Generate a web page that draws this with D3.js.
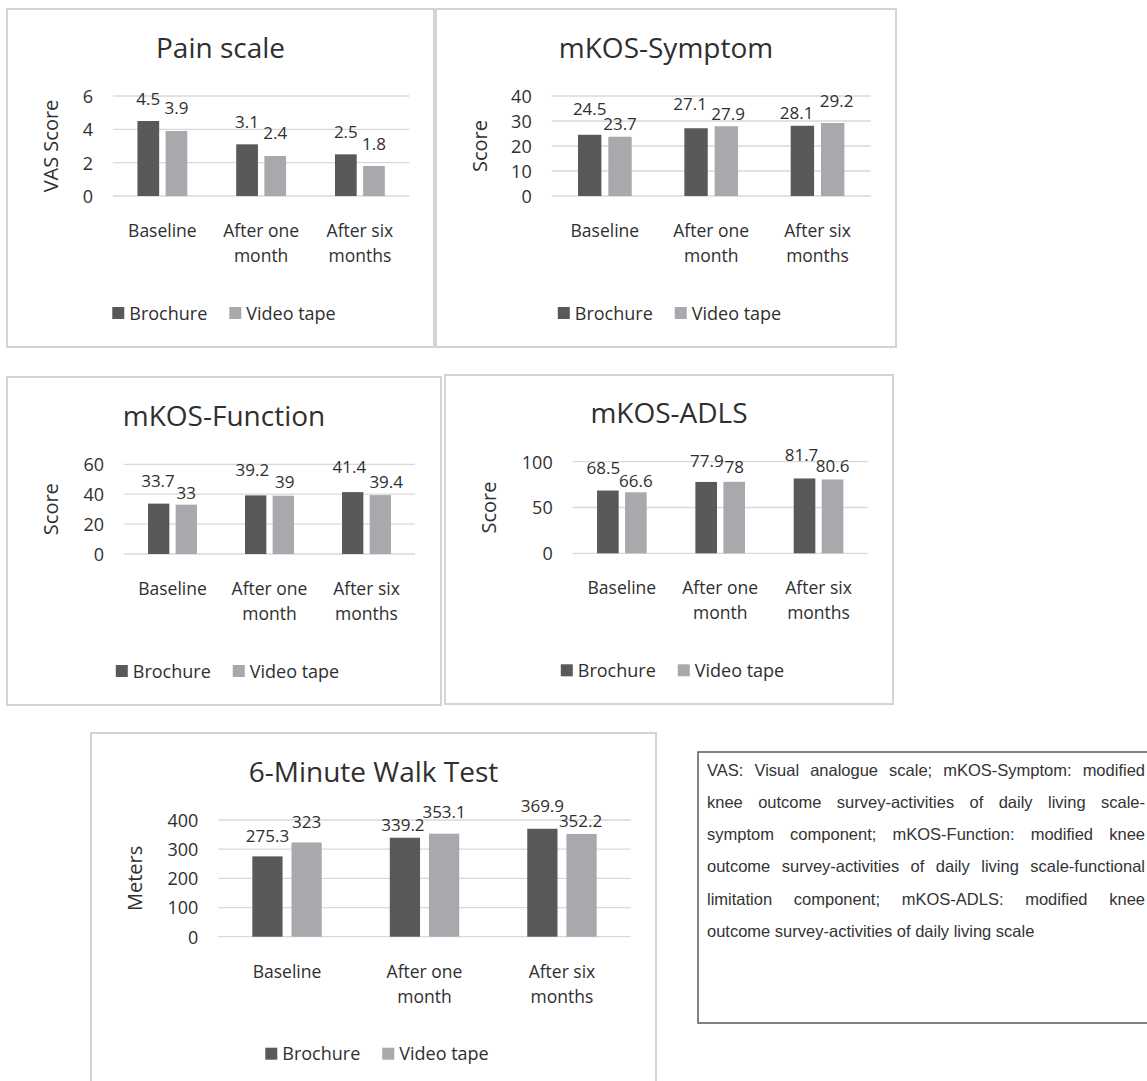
<!DOCTYPE html>
<html><head><meta charset="utf-8">
<script src="https://cdn.jsdelivr.net/npm/d3@7"></script>
<style>
body{margin:0;background:#fff;}
svg{display:block;}
text{font-family:"Open Sans",sans-serif;fill:#2f2f2f;}
</style>
</head><body>
<svg id="c" width="1147" height="1081"></svg>
<script>
// ---------- data ----------
const categories = ["Baseline", "After one month", "After six months"];
const seriesNames = ["Brochure", "Video tape"];
const seriesColors = ["#58595b", "#a7a9ac"];

const painBrochure = [4.5, 3.1, 2.5];
const painVideo = [3.9, 2.4, 1.8];
const symptomBrochure = [24.5, 27.1, 28.1];
const symptomVideo = [23.7, 27.9, 29.2];
const functionBrochure = [33.7, 39.2, 41.4];
const functionVideo = [33, 39, 39.4];
const adlsBrochure = [68.5, 77.9, 81.7];
const adlsVideo = [66.6, 78, 80.6];
const walkBrochure = [275.3, 339.2, 369.9];
const walkVideo = [323, 353.1, 352.2];

const painTicks = [0, 2, 4, 6];
const symptomTicks = [0, 10, 20, 30, 40];
const functionTicks = [0, 20, 40, 60];
const adlsTicks = [0, 50, 100];
const walkTicks = [0, 100, 200, 300, 400];

const chartTitles = ["Pain scale", "mKOS-Symptom", "mKOS-Function", "mKOS-ADLS", "6-Minute Walk Test"];
const axisTitles = ["VAS Score", "Score", "Score", "Score", "Meters"];

const noteLines = [
  "VAS:  Visual analogue scale; mKOS-Symptom: modified",
  "knee outcome survey-activities of daily living scale-",
  "symptom component; mKOS-Function: modified knee",
  "outcome survey-activities of daily living scale-functional",
  "limitation component; mKOS-ADLS: modified knee",
  "outcome survey-activities of daily living scale"
];

// ---------- layout (positions/styles) ----------
const panels = [
  {title: chartTitles[0], yTitle: axisTitles[0], values: [painBrochure, painVideo], ticks: painTicks,
   box: [7, 9, 434, 347], plot: [113, 96, 409.3, 196],
   nudge: [[0,16.5],[0,17],[0,16.7],[0,16.7],[0,16.7],[0,16]]},
  {title: chartTitles[1], yTitle: axisTitles[1], values: [symptomBrochure, symptomVideo], ticks: symptomTicks,
   box: [436, 9, 896, 347], plot: [551.7, 96, 870.7, 196],
   nudge: [[0,19.7],[0,6.7],[-6,18.2],[1.7,6.2],[-5.7,6.7],[4,16.3]]},
  {title: chartTitles[2], yTitle: axisTitles[2], values: [functionBrochure, functionVideo], ticks: functionTicks,
   box: [7, 377, 441, 705], plot: [124, 464.3, 415, 554],
   nudge: [[-0.7,16.5],[0,5.5],[-3.3,19],[1.5,7.2],[-3.3,19.2],[5.9,6.6]]},
  {title: chartTitles[3], yTitle: axisTitles[3], values: [adlsBrochure, adlsVideo], ticks: adlsTicks,
   box: [445, 375, 893, 704], plot: [572.7, 461.7, 867.7, 553.3],
   nudge: [[-4.5,16.5],[0,5.6],[0.7,15.3],[0,8.6],[-3,17],[0,7.8]]},
  {title: chartTitles[4], yTitle: axisTitles[4], values: [walkBrochure, walkVideo], ticks: walkTicks,
   box: [91, 733, 656, 1095], plot: [218.3, 820, 630.7, 936.7],
   nudge: [[0,14.6],[0,14.7],[-2,6.6],[0,16],[0,16.4],[-1,7.2]]}
];

const svg = d3.select("#c");
const gridColor = "#d9d9d9";
const boxColor = "#d4d4d4";

panels.forEach(p => {
  const g = svg.append("g");
  const [bx0, by0, bx1, by1] = p.box;
  const [px0, py0, px1, py1] = p.plot;

  g.append("rect").attr("x", bx0).attr("y", by0).attr("width", bx1 - bx0).attr("height", by1 - by0)
    .attr("fill", "#fff").attr("stroke", boxColor).attr("stroke-width", 2);

  const y = d3.scaleLinear().domain([0, d3.max(p.ticks)]).range([py1, py0]);
  const x0 = d3.scaleBand().domain(categories).range([px0, px1]).paddingInner(0.495).paddingOuter(0.2475);
  const x1 = d3.scaleBand().domain(seriesNames).range([0, x0.bandwidth()]).paddingInner(0.228);

  // gridlines
  g.append("g").selectAll("line").data(p.ticks).join("line")
    .attr("x1", px0).attr("x2", px1).attr("y1", d => y(d)).attr("y2", d => y(d))
    .attr("stroke", gridColor).attr("stroke-width", 1.3);

  // y axis labels via d3 axis
  const yAxis = d3.axisLeft(y).tickValues(p.ticks).tickSize(0).tickPadding(0).tickFormat(d3.format("d"));
  const ya = g.append("g").attr("transform", `translate(${px0 - 20},0)`).call(yAxis);
  ya.select(".domain").remove();
  ya.selectAll("text").attr("font-family", null).style("font-size", "18px").style("fill", "#2f2f2f")
    .attr("dy", null).attr("y", 6.4);

  // bars
  const rows = [];
  categories.forEach((c, ci) => seriesNames.forEach((s, si) => rows.push({c, s, si, v: p.values[si][ci], n: p.nudge[ci * 2 + si]})));
  g.append("g").selectAll("rect").data(rows).join("rect")
    .attr("x", d => x0(d.c) + x1(d.s)).attr("width", x1.bandwidth())
    .attr("y", d => y(d.v)).attr("height", d => y(0) - y(d.v))
    .attr("fill", d => seriesColors[d.si]);

  // data labels
  g.append("g").selectAll("text").data(rows).join("text")
    .attr("x", d => x0(d.c) + x1(d.s) + x1.bandwidth() / 2 + d.n[0])
    .attr("y", d => y(d.v) - d.n[1])
    .attr("text-anchor", "middle").style("font-size", "17px")
    .text(d => d.v);

  // category labels (wrapped)
  categories.forEach(c => {
    const words = c.split(" ");
    const lines = words.length > 1 ? [words.slice(0, -1).join(" "), words[words.length - 1]] : [c];
    const t = g.append("text").attr("text-anchor", "middle").style("font-size", "17.5px");
    lines.forEach((l, i) => t.append("tspan").attr("x", x0(c) + x0.bandwidth() / 2).attr("y", py1 + 41 + i * 25).text(l));
  });

  // title
  g.append("text").attr("x", (bx0 + bx1) / 2).attr("y", py0 - 38.5).attr("text-anchor", "middle")
    .style("font-size", "28px").text(p.title);

  // y title
  const tx = bx0 + 44 + 7, ty = (py0 + py1) / 2;
  g.append("text").attr("transform", `translate(${tx},${ty}) rotate(-90)`).attr("text-anchor", "middle")
    .style("font-size", "20px").text(p.yTitle);

  // legend
  const lg = g.append("g");
  const ly = py1 + 117;
  let cx = 0;
  const items = [];
  seriesNames.forEach((s, si) => {
    const sq = lg.append("rect").attr("x", cx).attr("y", ly - 6).attr("width", 12).attr("height", 12).attr("fill", seriesColors[si]);
    const t = lg.append("text").attr("x", cx + 17).attr("y", ly + 6.5).style("font-size", "18px").text(s);
    const w = t.node().getComputedTextLength();
    cx += 17 + w + 22;
  });
  const total = cx - 22;
  lg.attr("transform", `translate(${(bx0 + bx1) / 2 + 3.5 - total / 2},0)`);
});

// ---------- note box ----------
const ng = svg.append("g");
ng.append("rect").attr("x", 698).attr("y", 752).attr("width", 470).attr("height", 271)
  .attr("fill", "#fff").attr("stroke", "#595959").attr("stroke-width", 1.5);
const nLeft = 707, nRight = 1145, nFont = 16.5;
const meas = ng.append("text").style("font-family", "'Liberation Sans', Arial, sans-serif").style("font-size", nFont + "px");
noteLines.forEach((line, i) => {
  const yy = 776 + i * 32.15;
  const t = ng.append("text").attr("y", yy).style("font-family", "'Liberation Sans', Arial, sans-serif")
    .style("font-size", nFont + "px").style("fill", "#333");
  if (i === noteLines.length - 1) {
    t.attr("x", nLeft).text(line);
  } else {
    const words = line.split(/\s+/);
    const widths = words.map(w => { meas.text(w); return meas.node().getComputedTextLength(); });
    const gap = (nRight - nLeft - d3.sum(widths)) / (words.length - 1);
    let xx = nLeft;
    words.forEach((w, wi) => {
      t.append("tspan").attr("x", xx).text(w);
      xx += widths[wi] + gap;
    });
  }
});
meas.remove();
</script>
</body></html>
